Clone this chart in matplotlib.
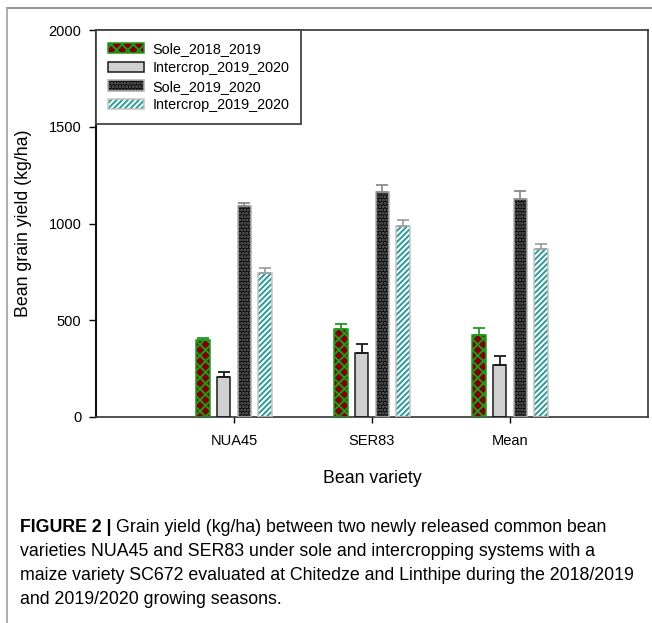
import matplotlib
matplotlib.use("Agg")
import matplotlib.pyplot as plt
from matplotlib.patches import Patch
from matplotlib.lines import Line2D
import numpy as np

# bean grain yield (kg/ha) with upper error bars
varieties = ["NUA45", "SER83", "Mean"]
series = ["Sole_2018_2019", "Intercrop_2019_2020", "Sole_2019_2020", "Intercrop_2019_2020"]
sole_1819 = [400, 453, 425]
inter_1920_a = [205, 332, 268]
sole_1920 = [1089, 1163, 1125]
inter_1920_b = [742, 988, 866]
err_sole_1819 = [10, 27, 33]
err_inter_a = [26, 46, 47]
err_sole_1920 = [19, 38, 42]
err_inter_b = [26, 29, 26]

yields = [sole_1819, inter_1920_a, sole_1920, inter_1920_b]
errors = [err_sole_1819, err_inter_a, err_sole_1920, err_inter_b]

# fill, hatch, hatch colour, outline colour, error bar colour
styles = [
    ("#800000", "xxx", "#1f9a1f", "#1f9a1f", "#1f9a1f"),
    ("#d0d0d0", "", "#d0d0d0", "#1a1a1a", "#1a1a1a"),
    ("#0a0a0a", ".....", "#6a6a6a", "#b0b0b0", "#8c8c8c"),
    ("#ffffff", "//////", "#2a9a9a", "#c4c4c4", "#a0a0a0"),
]

plt.rcParams["font.family"] = ["Liberation Sans", "DejaVu Sans"]
plt.rcParams["hatch.linewidth"] = 1.4

W, H = 652, 623
fig = plt.figure(figsize=(W / 100, H / 100), dpi=100)

# page frame lines
fig.add_artist(Line2D([7 / W, 1], [1 - 8 / H, 1 - 8 / H], color="#808080", lw=1.2))
fig.add_artist(Line2D([7 / W, 7 / W], [0, 1 - 8 / H], color="#a0a0a0", lw=1.2))

ax = fig.add_axes([96 / W, 1 - 417 / H, (648 - 96) / W, (417 - 30) / H])

x = np.arange(1, len(varieties) + 1)
offsets = [-0.225, -0.075, 0.075, 0.225]
width = 0.095

handles = []
for vals, errs, off, (fc, hatch, hc, ec, erc) in zip(yields, errors, offsets, styles):
    pos = x + off
    ax.bar(pos, vals, width, color=fc, hatch=hatch, edgecolor=hc, linewidth=0, zorder=2)
    ax.bar(pos, vals, width, fill=False, edgecolor=ec, linewidth=1.1, zorder=3)
    ax.errorbar(pos, vals, yerr=[np.zeros(len(errs)), errs], fmt="none",
                ecolor=erc, elinewidth=1.3, capsize=4.5, capthick=1.3, zorder=4)
    handles.append((Patch(facecolor=fc, hatch=hatch, edgecolor=hc, linewidth=0),
                    Patch(fill=False, edgecolor=ec, linewidth=1.1)))

ax.set_xlim(0, 4)
ax.set_ylim(0, 2000)
ax.set_xticks(x)
ax.set_xticklabels(varieties, fontsize=10.5)
ax.set_yticks([0, 500, 1000, 1500, 2000])
ax.tick_params(axis="y", direction="out", length=5, width=1, pad=5.5, labelsize=10.5)
ax.tick_params(axis="x", direction="out", length=4, width=1, pad=8)
for s in ax.spines.values():
    s.set_color("#333333")
    s.set_linewidth(1.2)
ax.spines["left"].set_linewidth(1.5)
ax.spines["left"].set_color("#111111")

ax.set_xlabel("Bean variety", fontsize=12.8, labelpad=16)
ax.set_ylabel("Bean grain yield (kg/ha)", fontsize=12.8, labelpad=12)

leg = ax.legend(handles, series, loc="upper left", bbox_to_anchor=(0, 1),
                borderaxespad=0, fontsize=10.4, handlelength=2.45, handleheight=0.7,
                handletextpad=0.6, labelspacing=0.32, borderpad=0.85,
                fancybox=False, framealpha=1)
leg.get_frame().set_edgecolor("#444444")
leg.get_frame().set_linewidth(1.3)

# figure caption, sized so the longest line spans 620 px
cap_x = 20 / W
lines_y = [527, 551, 575, 599]
rest = [
    "varieties NUA45 and SER83 under sole and intercropping systems with a",
    "maize variety SC672 evaluated at Chitedze and Linthipe during the 2018/2019",
    "and 2019/2020 growing seasons.",
]
renderer = fig.canvas.get_renderer()
probe = fig.text(0, 0, rest[1], fontsize=14)
cap_size = 14 * 620 / probe.get_window_extent(renderer).width
probe.remove()

bold = fig.text(cap_x, 1 - lines_y[0] / H, "FIGURE 2 | ", fontsize=cap_size,
                fontweight="bold", va="center")
bb = bold.get_window_extent(renderer)
fig.text(bb.x1 / W, 1 - lines_y[0] / H,
         "Grain yield (kg/ha) between two newly released common bean",
         fontsize=cap_size, va="center")
for t, py in zip(rest, lines_y[1:]):
    fig.text(cap_x, 1 - py / H, t, fontsize=cap_size, va="center")

fig.savefig("out.png", dpi=100)
